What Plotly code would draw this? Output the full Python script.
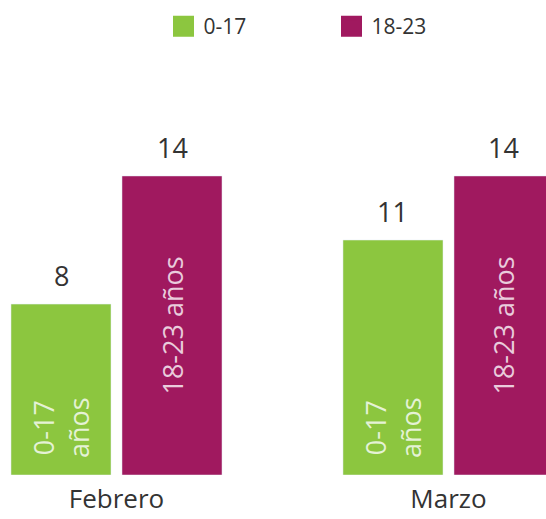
import plotly.graph_objects as go

categories = ["Febrero", "Marzo"]
series_names = ["0-17", "18-23"]
values_0_17 = [8, 11]
values_18_23 = [14, 14]
inner_labels = ["\u00a0\u00a00-17<br>\u00a0\u00a0años", "18-23 años"]
colors = ["#8cc63f", "#a0195f"]

FONT = "Open Sans"
TXT = "#333333"

fig = go.Figure()
fig.add_trace(go.Bar(
    x=categories, y=values_0_17, name=series_names[0], marker_color=colors[0],
    text=[inner_labels[0]] * len(categories), textposition="inside",
    insidetextanchor="start", textangle=-90,
    insidetextfont=dict(family=FONT, size=27, color="rgba(255,255,255,0.78)"),
    showlegend=False, hoverinfo="skip",
))
fig.add_trace(go.Bar(
    x=categories, y=values_18_23, name=series_names[1], marker_color=colors[1],
    text=[inner_labels[1]] * len(categories), textposition="inside",
    insidetextanchor="middle", textangle=-90,
    insidetextfont=dict(family=FONT, size=27, color="rgba(255,255,255,0.78)"),
    showlegend=False, hoverinfo="skip",
))
# legend entries
for name, c in zip(series_names, colors):
    fig.add_trace(go.Scatter(
        x=[None], y=[None], mode="markers", name=name,
        marker=dict(symbol="square", size=16, color=c, line=dict(color=c, width=5)),
    ))

# value labels above bars
for vals, shift in ((values_0_17, -55.5), (values_18_23, 55.5)):
    for cat, v in zip(categories, vals):
        fig.add_annotation(
            x=cat, y=v, text=str(v), showarrow=False, xshift=shift,
            yanchor="bottom", yshift=8,
            font=dict(family=FONT, size=27, color=TXT),
        )

W, H = 546, 519
T, B = 60, 44
plot_h = H - T - B
fig.update_layout(
    width=W, height=H,
    margin=dict(l=0, r=0, t=T, b=B, autoexpand=False),
    paper_bgcolor="white", plot_bgcolor="white",
    barmode="group", bargap=0.3313, bargroupgap=0.099,
    font=dict(family=FONT, color=TXT),
    legend=dict(
        orientation="h", x=163.5 / W, xanchor="left",
        y=1 + (T - 6) / plot_h, yanchor="top",
        font=dict(family=FONT, size=21, color=TXT),
        entrywidth=123, entrywidthmode="pixels",
        bgcolor="rgba(0,0,0,0)",
    ),
    xaxis=dict(
        range=[-0.3509, 1.2937], showgrid=False, zeroline=False, showline=False,
        ticks="", ticklabelstandoff=6, automargin=False,
        tickfont=dict(family=FONT, size=26, color=TXT),
    ),
    yaxis=dict(
        range=[0, plot_h / 21.36], visible=False, showgrid=False, zeroline=False,
        automargin=False,
    ),
)

fig.write_html("out.html", config={"displayModeBar": False},
               post_script="document.body.style.margin='0';")
